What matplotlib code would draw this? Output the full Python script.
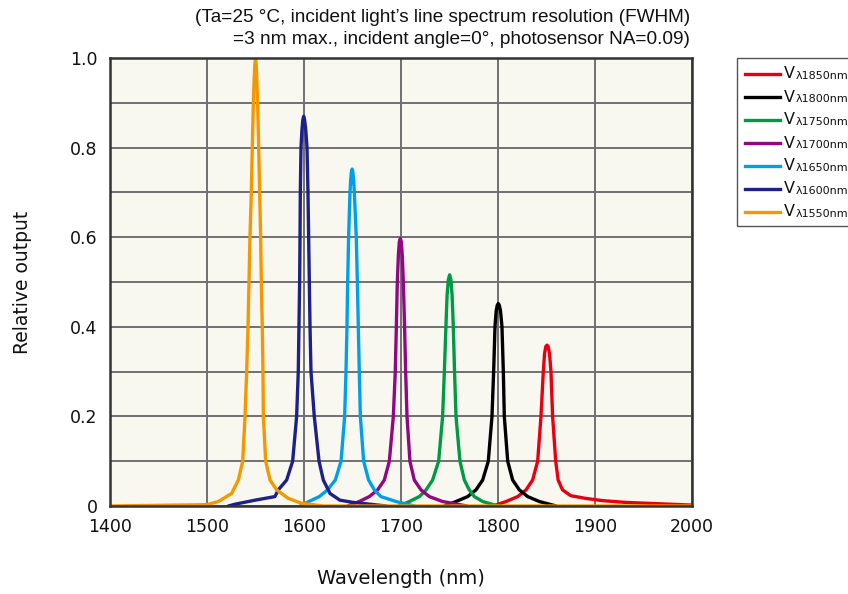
import matplotlib
matplotlib.use('Agg')
import matplotlib.pyplot as plt
from matplotlib.lines import Line2D
from matplotlib.patches import Rectangle

# ---------------- data ----------------
peak_labels = ['1850', '1800', '1750', '1700', '1650', '1600', '1550']
line_colors = ['#e60012', '#000000', '#009944', '#920783', '#00a0e9', '#1d2088', '#f39800']

wl_1850 = [1795, 1808.3, 1820.3, 1828.9, 1835.7, 1840.9, 1844.3, 1846.7, 1848.0, 1849.3,
           1850.5, 1851.7, 1853.1, 1854.6, 1856.3, 1859.5, 1862.0, 1866.5, 1875.0, 1890.4,
           1907.6, 1931.7, 1966.0, 2000]
out_1850 = [0, 0.010, 0.021, 0.036, 0.058, 0.10, 0.20, 0.30, 0.34, 0.356,
            0.359, 0.356, 0.34, 0.30, 0.20, 0.10, 0.058, 0.036, 0.023, 0.017,
            0.012, 0.008, 0.005, 0.002]

wl_1800 = [1745, 1756.7, 1768.7, 1777.3, 1784.2, 1790.0, 1793.8, 1795.5, 1796.9, 1798.1,
           1799.2, 1800.3, 1801.4, 1802.6, 1804.1, 1805.5, 1806.5, 1810.0, 1815.1, 1822.0,
           1830.6, 1842.6, 1860]
out_1800 = [0, 0.010, 0.021, 0.036, 0.058, 0.10, 0.20, 0.30, 0.40, 0.435,
            0.448, 0.452, 0.448, 0.435, 0.40, 0.30, 0.20, 0.10, 0.058, 0.036,
            0.021, 0.010, 0]

wl_1750 = [1698, 1708.6, 1718.9, 1725.8, 1732.6, 1738.8, 1742.9, 1744.7, 1746.3, 1747.5,
           1748.8, 1750.1, 1751.4, 1752.7, 1753.9, 1755.2, 1756.7, 1760.8, 1765.3, 1770.4,
           1775.6, 1784.2, 1800]
out_1750 = [0, 0.010, 0.021, 0.036, 0.058, 0.10, 0.20, 0.30, 0.40, 0.47,
            0.505, 0.516, 0.505, 0.47, 0.40, 0.30, 0.20, 0.10, 0.058, 0.036,
            0.021, 0.010, 0]

wl_1700 = [1645, 1657.0, 1667.3, 1675.9, 1682.8, 1688.0, 1692.1, 1694.1, 1695.2, 1696.2,
           1697.3, 1698.3, 1699.3, 1700.3, 1701.3, 1702.4, 1703.7, 1704.8, 1706.2, 1709.2,
           1713.7, 1720.6, 1729.2, 1742.9, 1768]
out_1700 = [0, 0.010, 0.021, 0.036, 0.058, 0.10, 0.20, 0.30, 0.40, 0.50,
            0.56, 0.59, 0.597, 0.59, 0.56, 0.50, 0.40, 0.30, 0.20, 0.10,
            0.058, 0.036, 0.021, 0.010, 0]

wl_1650 = [1596, 1605.0, 1615.8, 1624.3, 1632.3, 1638.2, 1641.9, 1643.3, 1644.3, 1645.0,
           1646.0, 1647.4, 1648.2, 1648.9, 1649.6, 1650.3, 1651.1, 1651.9, 1653.9, 1655.0,
           1656.0, 1657.0, 1658.1, 1661.5, 1666.6, 1672.5, 1679.3, 1694.8, 1714]
out_1650 = [0, 0.010, 0.021, 0.036, 0.058, 0.10, 0.20, 0.30, 0.40, 0.50,
            0.60, 0.70, 0.73, 0.746, 0.752, 0.746, 0.73, 0.70, 0.60, 0.50,
            0.40, 0.30, 0.20, 0.10, 0.058, 0.036, 0.021, 0.010, 0]

wl_1600 = [1522, 1528.9, 1549.5, 1570.0, 1573.5, 1582.1, 1588.3, 1592.4, 1594.1, 1594.8,
           1595.5, 1595.9, 1596.2, 1596.9, 1597.9, 1598.8, 1599.7, 1600.6, 1601.8, 1603.1,
           1604.1, 1604.8, 1605.5, 1606.2, 1607.2, 1610.6, 1615.5, 1619.9, 1626.8, 1637.0,
           1650.8, 1668.0, 1685]
out_1600 = [0, 0.004, 0.013, 0.021, 0.036, 0.058, 0.10, 0.20, 0.30, 0.40,
            0.50, 0.60, 0.70, 0.80, 0.84, 0.862, 0.87, 0.862, 0.84, 0.80,
            0.70, 0.60, 0.50, 0.40, 0.30, 0.20, 0.10, 0.058, 0.028, 0.013,
            0.008, 0.004, 0]

wl_1550 = [1400, 1500, 1511.7, 1525.4, 1532.3, 1536.8, 1539.2, 1540.9, 1542.3, 1543.3,
           1544.3, 1545.7, 1546.7, 1547.8, 1548.6, 1549.3, 1550.0, 1550.7, 1551.4, 1552.2,
           1553.3, 1554.3, 1555.3, 1556.0, 1557.0, 1557.7, 1558.1, 1560.5, 1565.0, 1571.8,
           1583.8, 1597.6, 1620, 2000]
out_1550 = [0, 0.003, 0.010, 0.028, 0.058, 0.10, 0.20, 0.30, 0.40, 0.50,
            0.60, 0.70, 0.80, 0.90, 0.95, 0.985, 1.0, 0.985, 0.95, 0.90,
            0.80, 0.70, 0.60, 0.50, 0.40, 0.30, 0.20, 0.10, 0.058, 0.036,
            0.017, 0.006, 0, 0]

wavelengths = [wl_1850, wl_1800, wl_1750, wl_1700, wl_1650, wl_1600, wl_1550]
outputs = [out_1850, out_1800, out_1750, out_1700, out_1650, out_1600, out_1550]

x_ticks = [1400, 1500, 1600, 1700, 1800, 1900, 2000]
y_ticks = [0, 0.2, 0.4, 0.6, 0.8, 1.0]
y_tick_labels = ['0', '0.2', '0.4', '0.6', '0.8', '1.0']
y_minor = [0.1, 0.3, 0.5, 0.7, 0.9]

# ---------------- figure ----------------
W, H = 848, 594
fig = plt.figure(figsize=(W / 100, H / 100), dpi=100)
ax = fig.add_axes([110 / W, 1 - 506 / H, 582 / W, 448 / H])
ax.set_facecolor('#f8f7f0')
ax.set_xlim(1400, 2000)
ax.set_ylim(0, 1)
ax.set_xticks(x_ticks)
ax.set_yticks(y_ticks)
ax.set_yticklabels(y_tick_labels)
ax.set_yticks(y_minor, minor=True)
ax.grid(which='both', color='#707070', lw=1.4)
ax.set_axisbelow(True)
ax.tick_params(which='both', length=0, labelsize=12.5, pad=9, labelcolor='#111111')
for s in ax.spines.values():
    s.set_color('#333333')
    s.set_linewidth(1.8)

for wl, out, col in zip(wavelengths, outputs, line_colors):
    ax.plot(wl, out, color=col, lw=2.4, solid_joinstyle='round', solid_capstyle='round')

ax.set_xlabel('Wavelength (nm)', fontsize=14, color='#111111')
ax.xaxis.set_label_coords(0.5, -0.14)
ax.set_ylabel('Relative output', fontsize=13.5, color='#111111')
ax.yaxis.set_label_coords(-0.134, 0.5)

# title (two lines, right aligned)
fig.text(690 / W, 1 - 18 / H, '(Ta=25 \u00b0C, incident light\u2019s line spectrum resolution (FWHM)',
         ha='right', va='center', fontsize=13.7, family='Liberation Sans', color='#111111')
fig.text(690 / W, 1 - 40 / H, '=3 nm max., incident angle=0\u00b0, photosensor NA=0.09)',
         ha='right', va='center', fontsize=13.7, family='Liberation Sans', color='#111111')

# legend (manual)
fig.patches.append(Rectangle((737 / W, 1 - 226 / H), 120 / W, 168 / H, transform=fig.transFigure,
                             facecolor='white', edgecolor='#555555', lw=1.0))
for i, (lab, col) in enumerate(zip(peak_labels, line_colors)):
    yy = 1 - (74 + i * 23) / H
    fig.lines.append(Line2D([745 / W, 780 / W], [yy, yy], transform=fig.transFigure,
                            color=col, lw=2.4))
    fig.text(784 / W, yy, 'V', ha='left', va='center', fontsize=11.5, color='#111111')
    fig.text(796 / W, yy - 2 / H, '\u03bb' + lab + 'nm', ha='left', va='center',
             fontsize=8, color='#111111')

fig.savefig('out.png', dpi=100)
